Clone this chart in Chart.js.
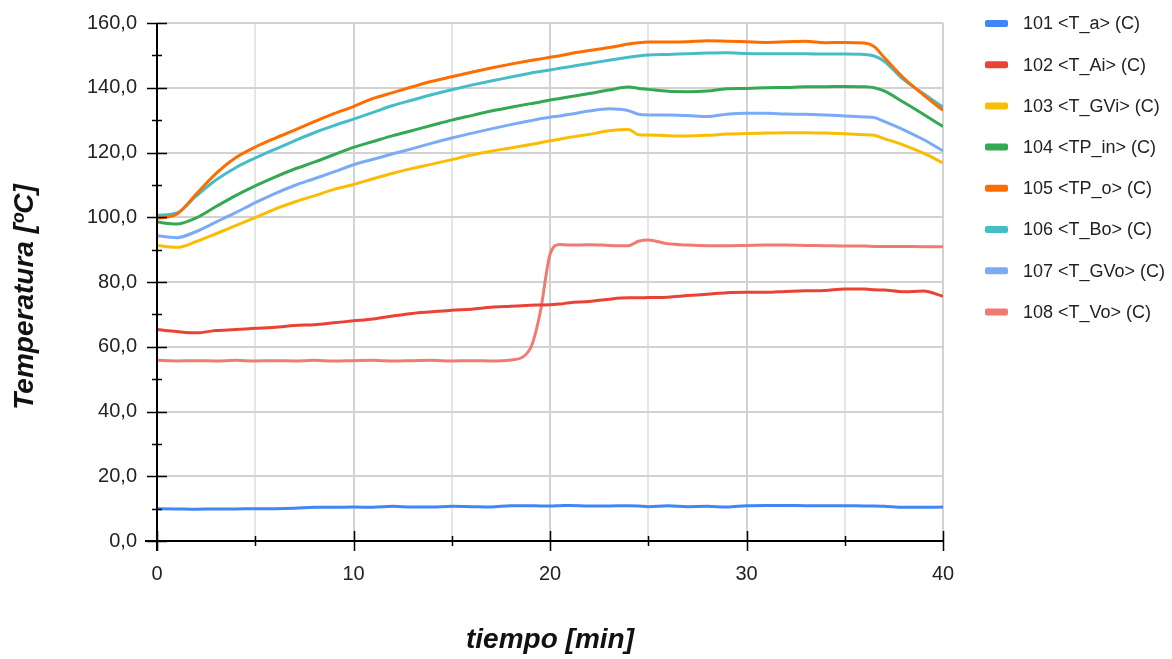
<!DOCTYPE html>
<html>
<head>
<meta charset="utf-8">
<script src="https://cdn.jsdelivr.net/npm/chart.js@4.4.1/dist/chart.umd.min.js"></script>
<style>
  html, body { margin: 0; padding: 0; background: #fff; }
  #wrap { width: 1172px; height: 659px; position: relative; }
</style>
</head>
<body>
<div id="wrap"><canvas id="chart"></canvas></div>
<script>
// ── Data (minutes, ºC) ───────────────────────────────────────────────────────
const times = [0,1,2,3,4,5,6,7,8,9,10,11,12,13,14,15,16,17,18,19,19.5,20,20.5,
  21,22,23,24,24.5,25,26,27,28,29,30,31,32,33,34,35,36,36.5,37,38,39,40];

const seriesNames = ['101 <T_a> (C)', '102 <T_Ai> (C)', '103 <T_GVi> (C)', '104 <TP_in> (C)',
  '105 <TP_o> (C)', '106 <T_Bo> (C)', '107 <T_GVo> (C)', '108 <T_Vo> (C)'];

const tA = [10.0,9.9,9.8,9.9,9.9,10.0,10.0,10.1,10.4,10.4,10.5,10.4,10.7,10.5,10.5,10.7,10.6,10.5,10.9,10.9,
  10.8,10.8,10.9, 11.0,10.8,10.8,10.9, 10.8,
  10.6,10.9,10.6,10.7,10.5,10.9,11.0,11.0,10.9,10.9,10.9,10.8, 10.8, 10.7,10.4,10.4,10.5];
const tAi = [65.3,64.7,64.3,65.0,65.3,65.7,66.0,66.6,66.8,67.4,68.0,68.6,69.5,70.3,70.8,71.3,71.6,72.2,72.5,72.8,
  72.9,73.0,73.2, 73.6,74.0,74.7,75.1, 75.1,
  75.2,75.3,75.8,76.2,76.7,76.8,76.8,77.1,77.3,77.4,77.8,77.8, 77.6, 77.5,77.0,77.2,75.6];
const tGVi = [91.3,90.7,92.5,94.9,97.4,99.9,102.5,104.7,106.6,108.6,110.1,111.9,113.6,115.1,116.4,117.8,119.2,120.4,121.4,122.5,
  123.0,123.6,124.1, 124.7,125.6,126.7,127.1, 125.5,
  125.4,125.2,125.1,125.3,125.7,125.9,126.0,126.1,126.1,126.0,125.8,125.5, 125.3, 124.3,122.3,119.8,116.8];
const tpIn = [98.5,97.9,99.8,103.3,106.7,109.7,112.4,114.9,117.0,119.3,121.6,123.4,125.2,126.8,128.4,130.0,131.4,132.8,134.0,135.1,
  135.6,136.2,136.7, 137.2,138.2,139.3,140.2, 139.8,
  139.5,138.9,138.8,139.0,139.7,139.8,140.0,140.1,140.3,140.3,140.4,140.3, 140.0, 139.0,135.5,131.8,128.0];
const tpO = [99.6,100.9,107.2,113.5,118.4,121.7,124.4,126.9,129.5,132.0,134.2,136.7,138.5,140.3,142.0,143.4,144.8,146.1,147.3,148.4,
  148.9,149.4,149.9, 150.5,151.5,152.4,153.5, 153.9,
  154.1,154.1,154.2,154.5,154.4,154.2,154.0,154.2,154.4,153.9,154.0,153.8, 152.7, 149.4,143.0,137.8,133.0];
const tBo = [100.6,101.3,106.6,111.5,115.3,118.3,121.0,123.6,126.1,128.3,130.3,132.4,134.5,136.2,137.9,139.4,140.8,142.1,143.3,144.5,
  145.0,145.5,146.0, 146.5,147.5,148.5,149.4, 149.8,
  150.1,150.3,150.5,150.7,150.8,150.6,150.5,150.5,150.5,150.4,150.4,150.3, 149.8, 148.2,142.5,138.2,134.0];
const tGVo = [94.3,93.7,95.6,98.5,101.4,104.5,107.3,109.8,111.9,114.0,116.2,117.9,119.6,121.2,122.9,124.5,125.9,127.3,128.6,129.8,
  130.4,130.9,131.3, 131.8,132.8,133.5,132.9, 131.8,
  131.6,131.6,131.4,131.1,131.8,132.1,132.1,131.9,131.8,131.6,131.3,131.0, 130.8, 129.6,127.0,124.0,120.5];
const tVo = [55.8,55.6,55.7,55.6,55.8,55.6,55.7,55.6,55.8,55.6,55.7,55.8,55.6,55.7,55.8,55.6,55.7,55.6,55.9,59.5,
  70.5,88.5,91.6, 91.4,91.5,91.3,91.2, 92.6,
  93.0,91.8,91.4,91.2,91.2,91.3,91.4,91.4,91.3,91.2,91.1,91.1, 91.0, 91.0,91.0,90.9,90.9];

const seriesValues = [tA, tAi, tGVi, tpIn, tpO, tBo, tGVo, tVo];
const seriesColors = ['#4285f4', '#ea4335', '#fbbc04', '#34a853', '#ff6d01', '#46bdc6', '#7baaf7', '#f07b72'];

// ── Styles ──────────────────────────────────────────────────────────────────
const FONT = "'Liberation Sans', Arial, sans-serif";
const TEXT = '#222222';
const GRID_MAJOR = '#d2d2d2';
const GRID_MINOR = '#e6e6e6';

// axis lines, tick marks both sides, y title and legend
const decorPlugin = {
  id: 'decor',
  afterDraw(chart) {
    const { ctx, chartArea: a, scales: { x, y } } = chart;
    ctx.save();
    ctx.strokeStyle = '#000';
    ctx.lineWidth = 1.5;
    ctx.beginPath();
    for (let v = 0; v <= 160; v += 10) {
      const py = Math.round(y.getPixelForValue(v)) + 0.5;
      const len = v % 20 === 0 ? 10 : 5;
      ctx.moveTo(a.left - len, py);
      ctx.lineTo(a.left + len, py);
    }
    for (let v = 0; v <= 40; v += 5) {
      const px = Math.round(x.getPixelForValue(v)) + 0.5;
      const len = v % 10 === 0 ? 10 : 5;
      ctx.moveTo(px, a.bottom - len);
      ctx.lineTo(px, a.bottom + len);
    }
    ctx.stroke();

    ctx.lineWidth = 2;
    ctx.beginPath();
    ctx.moveTo(a.left, a.top);
    ctx.lineTo(a.left, a.bottom + 10);
    ctx.moveTo(a.left - 12, a.bottom);
    ctx.lineTo(a.right, a.bottom);
    ctx.stroke();

    // y title
    ctx.fillStyle = '#111';
    ctx.font = 'italic bold 28px ' + FONT;
    ctx.textAlign = 'center';
    ctx.textBaseline = 'middle';
    ctx.translate(25, 297);
    ctx.rotate(-Math.PI / 2);
    ctx.fillText('Temperatura [ºC]', 0, 0);
    ctx.restore();

    // legend
    ctx.save();
    ctx.font = '18px ' + FONT;
    ctx.textAlign = 'left';
    ctx.textBaseline = 'middle';
    chart.data.datasets.forEach((ds, i) => {
      const cy = 23.5 + 41.2 * i;
      ctx.fillStyle = ds.borderColor;
      ctx.beginPath();
      ctx.roundRect(985, cy - 3.5, 23, 7, 2);
      ctx.fill();
      ctx.fillStyle = TEXT;
      ctx.fillText(ds.label, 1023, cy + 1);
    });
    ctx.restore();
  },
};

new Chart(document.getElementById('chart'), {
  type: 'line',
  data: {
    datasets: seriesNames.map((name, i) => ({
      label: name,
      data: times.map((t, j) => ({ x: t, y: seriesValues[i][j] })),
      borderColor: seriesColors[i],
      backgroundColor: seriesColors[i],
      borderWidth: 3,
      pointRadius: 0,
      cubicInterpolationMode: 'monotone',
      fill: false,
    })),
  },
  options: {
    responsive: true,
    maintainAspectRatio: false,
    animation: false,
    layout: { padding: { left: 0, right: 229, top: 23, bottom: 0 } },
    plugins: {
      legend: { display: false },
      tooltip: { enabled: false },
    },
    scales: {
      x: {
        type: 'linear',
        min: 0,
        max: 40,
        afterFit: s => { s.height = 118; },
        border: { display: false },
        grid: {
          drawTicks: false,
          lineWidth: 2,
          color: c => (c.tick.value % 10 === 0 ? GRID_MAJOR : GRID_MINOR),
        },
        ticks: {
          stepSize: 5,
          autoSkip: false,
          maxRotation: 0,
          padding: 21,
          color: TEXT,
          font: { family: FONT, size: 20 },
          callback: v => (v % 10 === 0 ? String(v) : ''),
        },
        title: {
          display: true,
          text: 'tiempo [min]',
          color: '#111',
          font: { family: FONT, size: 28, weight: 'bold', style: 'italic' },
          padding: { top: 0, bottom: 2 },
        },
      },
      y: {
        min: 0,
        max: 160,
        afterFit: s => { s.width = 157; },
        border: { display: false },
        grid: { drawTicks: true, tickLength: 20, tickColor: 'transparent', lineWidth: 2, color: GRID_MAJOR },
        ticks: {
          stepSize: 20,
          padding: 0,
          color: TEXT,
          font: { family: FONT, size: 20 },
          callback: v => v.toFixed(1).replace('.', ','),
        },
      },
    },
  },
  plugins: [decorPlugin],
});
</script>
</body>
</html>
